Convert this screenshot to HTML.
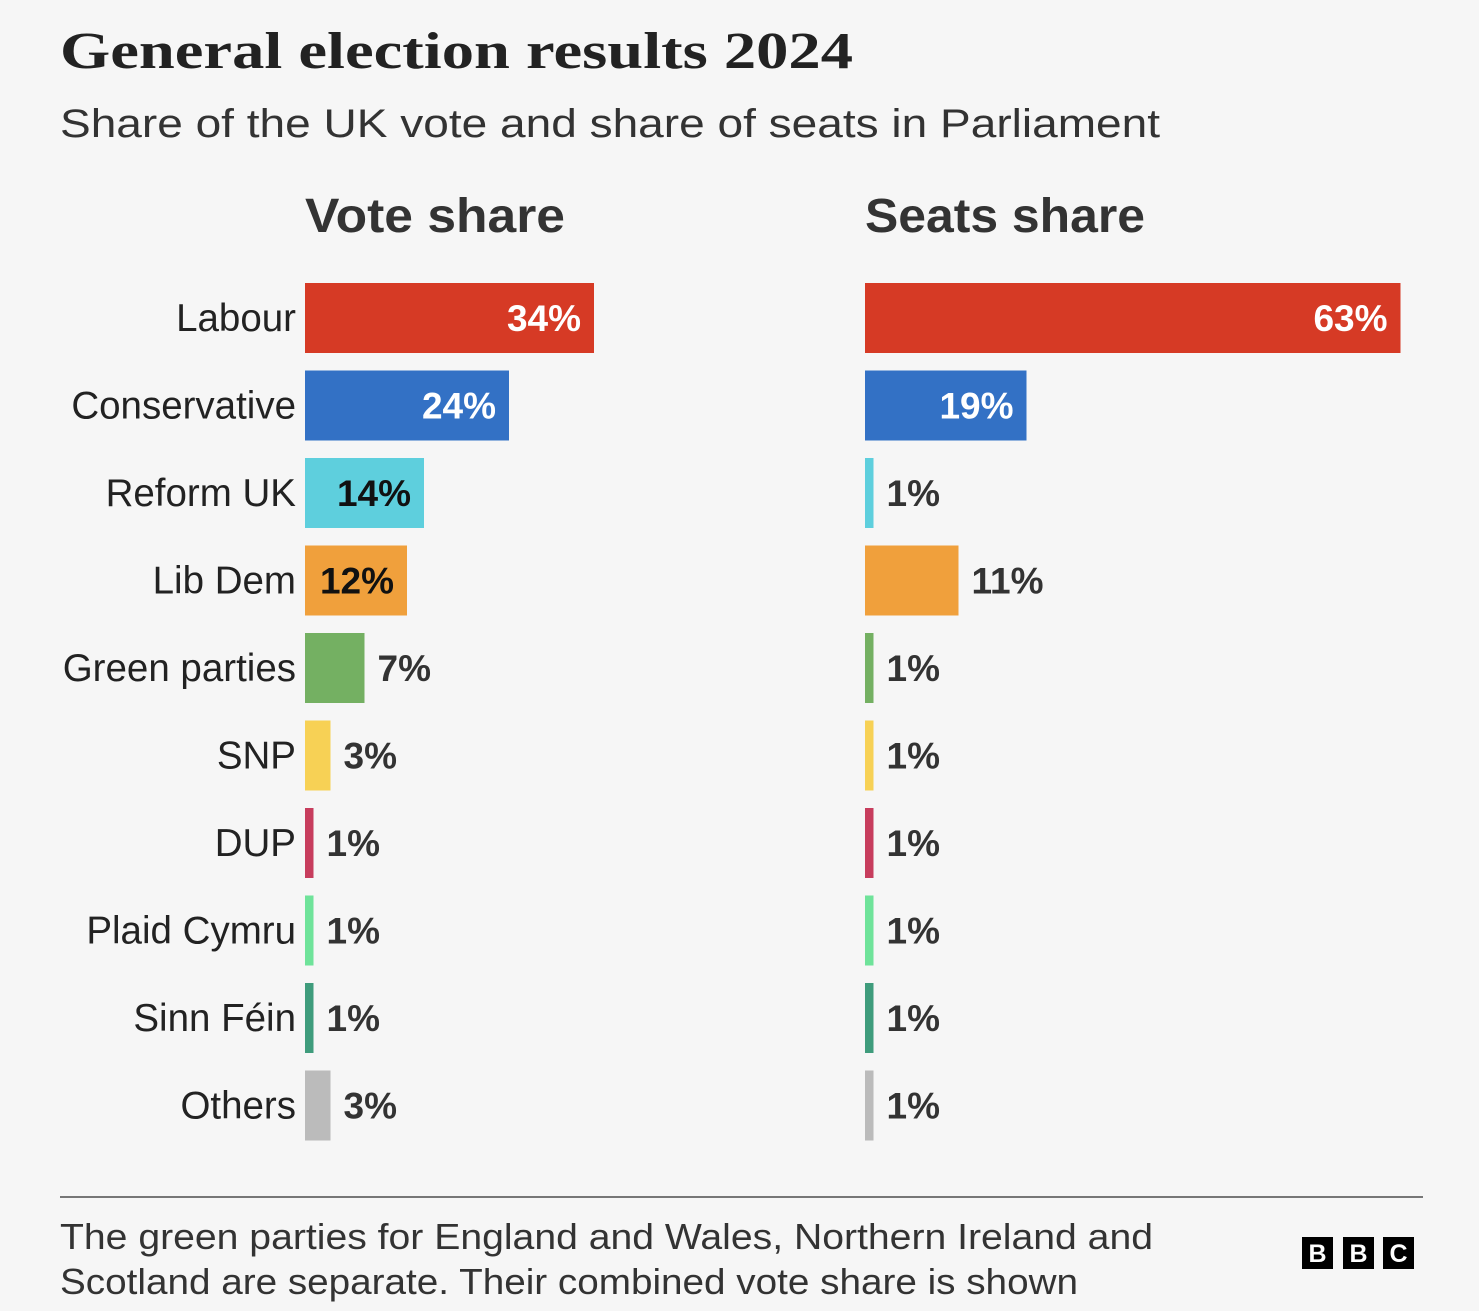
<!DOCTYPE html>
<html><head><meta charset="utf-8"><style>
html,body{margin:0;padding:0;background:#f6f6f6;}
body{width:1479px;height:1311px;overflow:hidden;position:relative;font-family:"Liberation Sans",sans-serif;}
</style></head><body>
<svg id="chart" width="1479" height="1311" xmlns="http://www.w3.org/2000/svg" style="position:absolute;left:0;top:0">
<rect width="1479" height="1311" fill="#f6f6f6"/>
<text x="60" y="68" font-family="Liberation Serif, serif" font-weight="bold" font-size="52" fill="#222" textLength="793" lengthAdjust="spacingAndGlyphs">General election results 2024</text>
<text x="60" y="137" font-size="40" fill="#333" textLength="1100" lengthAdjust="spacingAndGlyphs">Share of the UK vote and share of seats in Parliament</text>
<text x="305" y="232" font-size="48" font-weight="bold" fill="#333" textLength="260" lengthAdjust="spacingAndGlyphs">Vote share</text>
<text x="865" y="232" font-size="48" font-weight="bold" fill="#333" textLength="280" lengthAdjust="spacingAndGlyphs">Seats share</text>
<g id="bars"></g>
<line x1="60" y1="1197" x2="1423" y2="1197" stroke="#777" stroke-width="2"/>
<text font-size="36" fill="#333"><tspan x="60" y="1249" textLength="1093" lengthAdjust="spacingAndGlyphs">The green parties for England and Wales, Northern Ireland and</tspan><tspan x="60" y="1294" textLength="1018" lengthAdjust="spacingAndGlyphs">Scotland are separate. Their combined vote share is shown</tspan></text>
<g font-weight="bold" font-size="25" fill="#fff" text-anchor="middle">
<rect x="1302" y="1237" width="31" height="32" fill="#000"/><text x="1317.5" y="1262">B</text>
<rect x="1343" y="1237" width="31" height="32" fill="#000"/><text x="1358.5" y="1262">B</text>
<rect x="1383" y="1237" width="31" height="32" fill="#000"/><text x="1398.5" y="1262">C</text>
</g>
</svg>
<script>
const parties = ["Labour","Conservative","Reform UK","Lib Dem","Green parties","SNP","DUP","Plaid Cymru","Sinn Féin","Others"];
const voteShare = [34,24,14,12,7,3,1,1,1,3];
const seatShare = [63,19,1,11,1,1,1,1,1,1];
const colors = ["#d63a25","#3371c5","#5ecfdd","#f0a03c","#74b062","#f7d155","#c73d5d","#6fe39a","#3f9c7c","#bbbbbb"];
const insideText = ["#fff","#fff","#111","#111","#111","#111","#111","#111","#111","#111"];
const NS="http://www.w3.org/2000/svg";
const g=document.getElementById('bars');
const pxPer=8.5, rowTop=283, rowStep=87.5, barH=70;
function x(v){return v*pxPer;}
function y(i){return rowTop+i*rowStep;}
function mk(tag,attrs){const e=document.createElementNS(NS,tag);for(const k in attrs)e.setAttribute(k,attrs[k]);g.appendChild(e);return e;}
parties.forEach((p,i)=>{
  const t=mk('text',{x:296,y:y(i)+barH/2+13,'text-anchor':'end','font-size':38.5,fill:'#222'});
  
  
  t.textContent=p;
});
function series(vals,x0,name){
  vals.forEach((v,i)=>{
    const w=x(v);
    const r=mk('rect',{x:x0,y:y(i),width:w,height:barH,fill:colors[i]});
    
    
    const inside=w>=100;
    const t=mk('text',{x:inside?x0+w-13:x0+w+13,y:y(i)+barH/2+13,'text-anchor':inside?'end':'start','font-size':37,'font-weight':'bold',fill:inside?insideText[i]:'#333'});
    
    
    t.textContent=v+'%';
  });
}
series(voteShare,305,'vote-share');
series(seatShare,865,'seats-share');
</script>
</body></html>
